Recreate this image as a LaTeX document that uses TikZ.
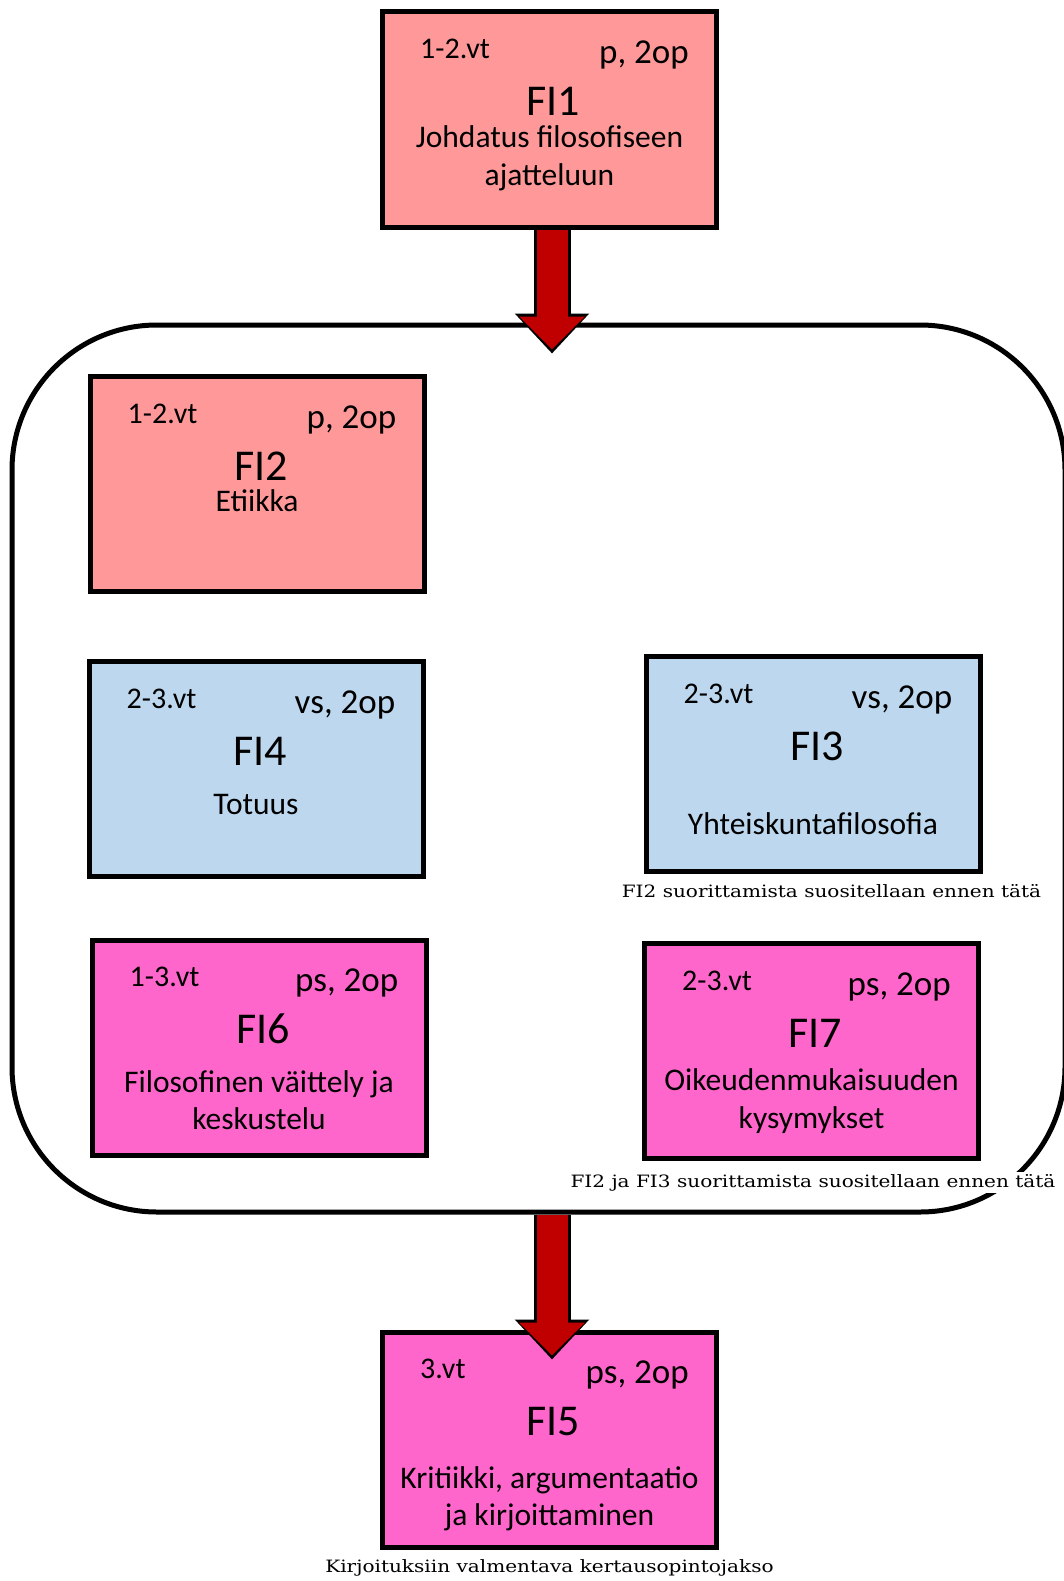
\documentclass[tikz,border=0pt]{standalone}
\usepackage{fontspec}
\setmainfont{Carlito}
\newfontfamily\huomfont[FakeStretch=1.18]{DejaVu Serif}
\usetikzlibrary{arrows.meta, positioning}

\definecolor{lohi}{HTML}{FF9999}
\definecolor{vaaleansin}{HTML}{BDD7EE}
\definecolor{pinkki}{HTML}{FF66CC}
\definecolor{tummapun}{HTML}{C00000}

% kurssi: nimi, paikka, vari, vt, op, koodi, kuvaus, kuvauksen (viim. rivin) korkeus
\newcommand{\kurssi}[8]{
	\node[laatikko, fill=#3] (#1) at (#2) {};
	\node[vt, anchor=base west] (#1vt) at ([xshift=40pt, yshift=-49pt]#1.north west) {#4};
	\node[op, anchor=base east] (#1op) at ([xshift=-30pt, yshift=-54pt]#1.north east) {#5};
	\node[koodi, anchor=base] (#1koodi) at ([xshift=4pt, yshift=-106pt]#1.north) {#6};
	\node[kuvaus, anchor=base] (#1kuvaus) at ([yshift=-#8]#1.north) {#7};
}

\begin{document}
\begin{tikzpicture}[x=1pt, y=-1pt,
	laatikko/.style={draw, line width=5pt, minimum width=334pt, minimum height=215pt, inner sep=0pt},
	ryhmakehys/.style={draw, line width=5pt, rounded corners=145pt, inner sep=0pt},
	vt/.style={inner sep=0pt, font=\fontsize{30}{36}\selectfont},
	op/.style={inner sep=0pt, font=\fontsize{35}{42}\selectfont},
	koodi/.style={inner sep=0pt, font=\fontsize{44}{52}\selectfont},
	kuvaus/.style={inner sep=0pt, align=center, font=\fontsize{31.5}{37.5}\selectfont},
	huom/.style={fill=white, inner sep=2pt, font=\huomfont\fontsize{17}{20}\selectfont},
	nuolireuna/.style={draw=black, line width=37pt, -{Triangle[width=72pt, length=40pt]}},
	nuoli/.style={draw=tummapun, line width=31pt, -{Triangle[width=64pt, length=33pt]}, shorten >=4pt}]
	\useasboundingbox (0,0) rectangle (1064,1581);

	\node[ryhmakehys, minimum width=1053pt, minimum height=887pt] (ryhma) at (538.5,768.5) {};

	\kurssi{fi1}{549.5,119.5}{lohi}{1-2.vt}{p, 2op}{FI1}{Johdatus filosofiseen\\ajatteluun}{176pt}
	\kurssi{fi2}{257,484}{lohi}{1-2.vt}{p, 2op}{FI2}{Etiikka}{137pt}
	\kurssi{fi4}{256,769}{vaaleansin}{2-3.vt}{vs, 2op}{FI4}{Totuus}{155pt}
	\kurssi{fi3}{813,764}{vaaleansin}{2-3.vt}{vs, 2op}{FI3}{Yhteiskuntafilosofia}{180pt}
	\kurssi{fi6}{259,1047.5}{pinkki}{1-3.vt}{ps, 2op}{FI6}{Filosofinen väittely ja\\keskustelu}{192pt}
	\kurssi{fi7}{811.5,1051}{pinkki}{2-3.vt}{ps, 2op}{FI7}{Oikeudenmukaisuuden\\kysymykset}{187pt}
	\kurssi{fi5}{549.5,1439.5}{pinkki}{3.vt}{ps, 2op}{FI5}{Kritiikki, argumentaatio\\ja kirjoittaminen}{196pt}

	\node[huom, anchor=base] (huom1) at (831.5,897) {FI2 suorittamista suositellaan ennen tätä};
	\node[huom, anchor=base] (huom2) at (813,1187) {FI2 ja FI3 suorittamista suositellaan ennen tätä};
	\node[huom, anchor=base] (huom3) at (549.5,1572) {Kirjoituksiin valmentava kertausopintojakso};

	% nuolet
	\coordinate (alku1) at ([xshift=2.5pt]fi1.south);
	\coordinate[below=124pt of alku1] (karki1);
	\coordinate (alku2) at ([xshift=2.5pt]fi5.north |- ryhma.south);
	\coordinate[below=145pt of alku2] (karki2);
	\draw[nuolireuna] (alku1) -- (karki1);
	\draw[nuoli] (alku1) -- (karki1);
	\draw[nuolireuna] (alku2) -- (karki2);
	\draw[nuoli] (alku2) -- (karki2);
\end{tikzpicture}
\end{document}
